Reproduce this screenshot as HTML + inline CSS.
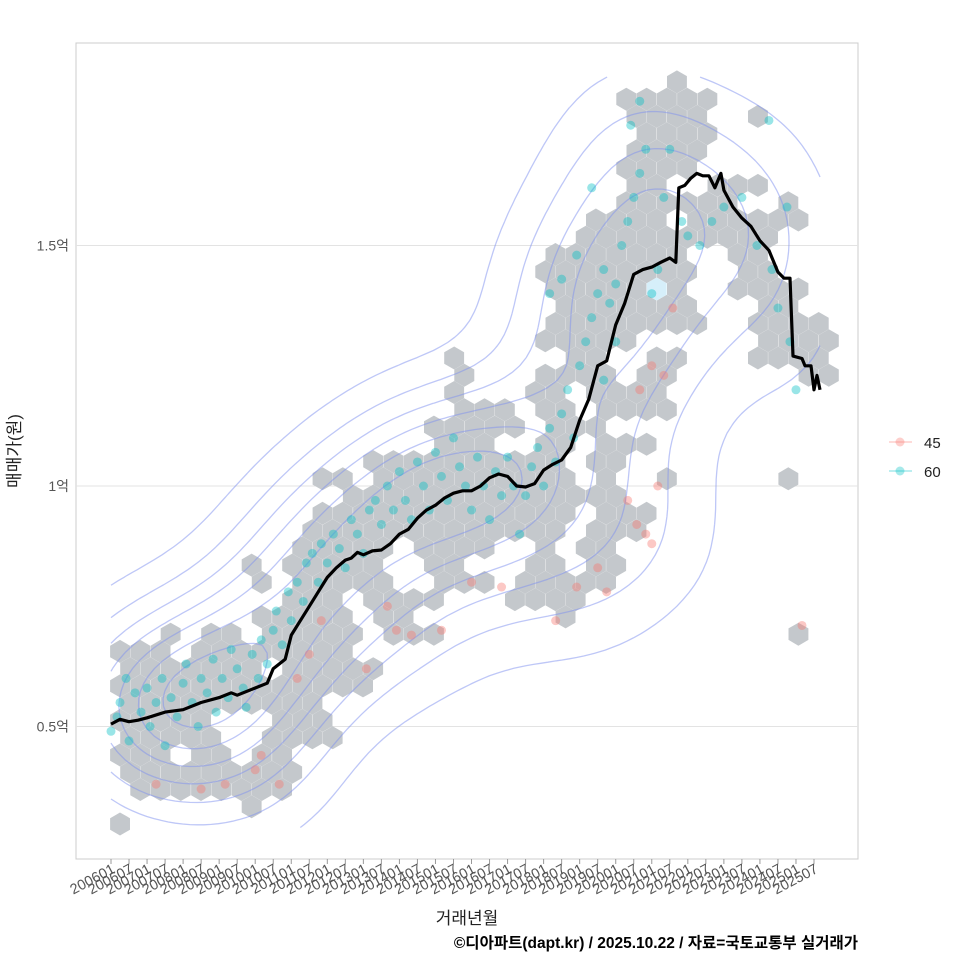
<!DOCTYPE html>
<html><head><meta charset="utf-8">
<style>
body{margin:0;background:#fff;}
svg{display:block;font-family:"Liberation Sans","Noto Sans CJK KR",sans-serif;}
</style></head>
<body>
<svg id="chart" width="960" height="960" viewBox="0 0 960 960">
<rect x="0" y="0" width="960" height="960" fill="#fff"/>
<rect x="76" y="43" width="782" height="816" fill="#fff" stroke="#cccccc" stroke-width="1"/>
<g id="grid"></g>
<g id="hexes"></g>
<g id="contours"></g>
<g id="points"></g>
<g id="trend"></g>
<g id="yaxis"></g>
<g id="xaxis"></g>
<text x="467" y="924" font-size="17" fill="#222" text-anchor="middle">거래년월</text>
<text x="0" y="0" font-size="17" fill="#222" text-anchor="middle" transform="translate(20,451) rotate(-90)">매매가(원)</text>
<text x="858" y="948" font-size="15.5" font-weight="bold" fill="#000" text-anchor="end">©디아파트(dapt.kr) / 2025.10.22 / 자료=국토교통부 실거래가</text>
<g>
  <g>
    <line x1="889" y1="442" x2="912" y2="442" stroke="#f8766d" stroke-opacity="0.35" stroke-width="1.5"/>
    <circle cx="900" cy="442" r="4.5" fill="#f8766d" fill-opacity="0.35"/>
    <text x="924" y="448" font-size="15" fill="#222">45</text>
  </g>
  <g>
    <line x1="889" y1="471" x2="912" y2="471" stroke="#00bfc4" stroke-opacity="0.35" stroke-width="1.5"/>
    <circle cx="900" cy="471" r="4.5" fill="#00bfc4" fill-opacity="0.35"/>
    <text x="924" y="477" font-size="15" fill="#222">60</text>
  </g>
</g>
</svg>
<script>
// ---- data ----
const yTickValues = [0.5, 1, 1.5];
const yTickLabels = ["0.5억", "1억", "1.5억"];
const xTickLabels = ["200601","200607","200701","200707","200801","200807","200901","200907","201001","201007","201101","201107","201201","201207","201301","201307","201401","201407","201501","201507","201601","201607","201701","201707","201801","201807","201901","201907","202001","202007","202101","202107","202201","202207","202301","202307","202401","202407","202501","202507"];
// median trend: months since 2006-01, value in 억
const lineMonth = [0,3,6,9,12,18,24,30,36,40,42,48,52,54,58,60,63,66,69,72,75,78,80,82,84,87,90,93,96,99,102,105,108,111,114,117,120,123,126,129,132,135,138,141,144,147,150,153,156,159,162,165,168,171,174,177,180,183,186,188,189,191,193,195,197,199,201,203,204,207,210,213,216,219,222,224,226,227,230,231,233,234,235,236];
const lineVal = [0.505,0.515,0.51,0.513,0.518,0.53,0.535,0.55,0.56,0.57,0.565,0.58,0.59,0.62,0.64,0.69,0.72,0.75,0.78,0.81,0.83,0.846,0.85,0.862,0.857,0.865,0.867,0.88,0.9,0.91,0.933,0.95,0.96,0.975,0.985,0.99,0.99,1.0,1.017,1.025,1.02,1.0,0.998,1.005,1.033,1.045,1.054,1.08,1.137,1.18,1.25,1.26,1.335,1.38,1.44,1.45,1.455,1.465,1.474,1.465,1.62,1.625,1.64,1.65,1.645,1.645,1.62,1.65,1.615,1.58,1.557,1.54,1.51,1.49,1.445,1.432,1.432,1.27,1.265,1.25,1.25,1.2,1.23,1.2];
// cyan (60) points: month, value
const cyanMonth = [0,2,3,5,6,8,10,12,13,15,17,18,20,22,24,25,27,29,30,32,34,35,37,39,40,42,44,45,47,49,50,52,54,55,57,59,60,62,64,65,67,69,70,72,74,76,78,80,82,84,86,88,90,92,94,96,98,100,102,104,106,108,110,112,114,116,118,120,122,124,126,128,130,132,134,136,138,140,142,144,146,148,150,152,154,156,158,160,162,164,166,168,170,172,174,176,178,173,176,180,182,184,186,190,192,196,200,204,210,215,220,222,226,228,219,225,146,150,155,160,164,168];
const cyanVal = [0.49,0.52,0.55,0.6,0.47,0.57,0.53,0.58,0.5,0.55,0.6,0.46,0.56,0.52,0.59,0.63,0.55,0.5,0.6,0.57,0.64,0.53,0.6,0.56,0.66,0.62,0.58,0.54,0.65,0.6,0.68,0.63,0.7,0.74,0.67,0.78,0.72,0.8,0.76,0.84,0.86,0.8,0.88,0.84,0.9,0.87,0.83,0.93,0.9,0.86,0.95,0.97,0.92,1.0,0.95,1.03,0.97,0.93,1.05,1.0,0.95,1.07,1.02,0.97,1.1,1.04,1.0,0.95,1.06,1.0,0.93,1.03,0.98,1.06,1.0,0.9,0.98,1.04,1.08,1.0,1.12,1.05,1.15,1.2,1.1,1.25,1.3,1.35,1.4,1.45,1.38,1.42,1.5,1.55,1.6,1.65,1.7,1.75,1.8,1.4,1.45,1.6,1.7,1.55,1.52,1.5,1.55,1.58,1.6,1.5,1.45,1.37,1.3,1.2,1.76,1.58,1.4,1.43,1.48,1.62,1.22,1.3];
// red (45) points
const redMonth = [15,30,38,48,50,56,62,66,70,85,92,95,100,110,120,130,148,155,162,165,172,175,178,180,182,180,187,184,230,176];
const redVal = [0.38,0.37,0.38,0.41,0.44,0.38,0.6,0.65,0.72,0.62,0.75,0.7,0.69,0.7,0.8,0.79,0.72,0.79,0.83,0.78,0.97,0.92,0.9,0.88,1.0,1.25,1.37,1.23,0.71,1.2];
// hexbin occupancy: row index -> column ranges [start,end]
const hexRows = [
 [[0,0]],[[6,6]],[[1,8]],[[0,8]],[[0,2],[4,5],[7,8]],[[0,4],[7,10]],[[0,4],[8,10]],[[0,9]],[[0,12]],[[0,6],[8,12]],
 [[0,2],[4,11]],[[2,2],[4,5],[7,11],[13,15],[33,33]],[[7,11],[13,14],[22,22]],[[8,10],[12,15],[19,22]],[[7,7],[9,13],[16,18],[20,24]],[[6,6],[8,12],[15,16],[20,21],[23,24]],[[9,13],[15,18],[21,21],[23,24]],[[9,21],[23,25]],[[10,22],[24,26]],[[11,24]],
 [[10,11],[13,22],[24,24],[27,27],[33,33]],[[12,21],[23,24]],[[16,18],[21,22],[24,26]],[[15,19],[21,23]],[[17,19],[21,22],[24,27]],[[16,16],[20,21],[23,26]],[[17,17],[21,24],[26,27],[34,35]],[[16,16],[22,23],[26,27],[31,34]],[[21,25],[32,35]],[[21,28],[31,34]],
 [[22,28],[32,33]],[[21,27],[30,33]],[[21,28],[31,32]],[[21,27],[30,31]],[[23,27],[28,30],[31,32]],[[23,26],[28,31],[32,33]],[[25,27],[28,30],[33,33]],[[25,26],[29,31]],[[25,28]],[[25,28]],
 [[26,29]],[[25,28],[31,31]],[[25,29]],[[27,27]]
];
const hexBinMonth = 6.741, hexBinVal = 0.03588, hexOriginMonth = 3.0, hexOriginVal = 0.2973;
const denseHex = [31, 26];
// density estimation range (data limits)
const kdeMonthRange = [0, 236], kdeValRange = [0.29, 1.85];

// ---- scales ----
const NS = "http://www.w3.org/2000/svg";
function xs(m){ return 111 + m * (703/234); }
function ys(v){ return 486 - (v - 1) * 481; }
function mk(tag, attrs, parent){ const e=document.createElementNS(NS,tag); for(const k in attrs) e.setAttribute(k, attrs[k]); parent.appendChild(e); return e; }

// grid + y axis
const grid=document.getElementById('grid'), yax=document.getElementById('yaxis');
yTickValues.forEach((v,i)=>{
  const gl=mk('line',{x1:76,x2:858,y1:ys(v),y2:ys(v),stroke:'#e3e3e3','stroke-width':1},grid);
  
  
  const t=mk('text',{x:69,y:ys(v)+5,'font-size':14,fill:'#555','text-anchor':'end'},yax);
  t.textContent=yTickLabels[i];
  
  
});
// x axis
const xax=document.getElementById('xaxis');
xTickLabels.forEach((lab,i)=>{
  const m=i*6, x=xs(m);
  const tk=mk('line',{x1:x,x2:x,y1:859,y2:864,stroke:'#999','stroke-width':1},xax);
  
  
  const t=mk('text',{x:0,y:0,'font-size':14.5,fill:'#555','text-anchor':'end',transform:`translate(${x+5},${872}) rotate(-28)`},xax);
  t.textContent=lab;
  
  
});

// hexes
const hexG=document.getElementById('hexes');
const R=11.5;
function hexPath(cx,cy){ let d=''; for(let k=0;k<6;k++){ const a=Math.PI/180*(-90+60*k); d+=(k?'L':'M')+(cx+R*Math.cos(a)).toFixed(1)+','+(cy+R*Math.sin(a)).toFixed(1);} return d+'Z'; }
hexRows.forEach((ranges,r)=>{
  ranges.forEach(([a,b])=>{
    for(let c=a;c<=b;c++){
      const m=hexOriginMonth + (c + (r%2?0.5:0))*hexBinMonth;
      const v=hexOriginVal + r*hexBinVal;
      const dense=(r===denseHex[0]&&c===denseHex[1]);
      const h=mk('path',{d:hexPath(xs(m),ys(v)),fill:dense?'#d6effa':'#c4c8cc'},hexG);
      
      
    }
  });
});

// density contours via KDE on points + marching squares (limited to data range)
(function(){
  const pts=[];
  cyanMonth.forEach((m,i)=>pts.push([xs(m),ys(cyanVal[i])]));
  redMonth.forEach((m,i)=>pts.push([xs(m),ys(redVal[i])]));
  const x0=xs(kdeMonthRange[0]),x1=xs(kdeMonthRange[1]),y0=ys(kdeValRange[1]),y1=ys(kdeValRange[0]);
  const nx=100, ny=100, stx=(x1-x0)/(nx-1), sty=(y1-y0)/(ny-1);
  const sx=62, sy=62;
  const D=[]; let mx=0;
  for(let j=0;j<ny;j++){ D.push([]); for(let i=0;i<nx;i++){ const X=x0+i*stx,Y=y0+j*sty; let s=0;
    for(const p of pts){ const dx=(X-p[0])/sx, dy=(Y-p[1])/sy; const q=dx*dx+dy*dy; if(q<12) s+=Math.exp(-q/2); }
    D[j].push(s); if(s>mx) mx=s; } }
  const levels=[0.12,0.25,0.38,0.51,0.64,0.77,0.9].map(f=>f*mx);
  const g=document.getElementById('contours');
  levels.forEach(L=>{
    let d='';
    for(let j=0;j<ny-1;j++) for(let i=0;i<nx-1;i++){
      const a=D[j][i],b=D[j][i+1],c=D[j+1][i+1],e=D[j+1][i];
      const X=x0+i*stx,Y=y0+j*sty;
      const ip=(p,q)=> (L-p)/(q-p);
      const pts2=[];
      if((a<L)!==(b<L)) pts2.push([X+stx*ip(a,b),Y]);
      if((b<L)!==(c<L)) pts2.push([X+stx,Y+sty*ip(b,c)]);
      if((e<L)!==(c<L)) pts2.push([X+stx*ip(e,c),Y+sty]);
      if((a<L)!==(e<L)) pts2.push([X,Y+sty*ip(a,e)]);
      for(let k=0;k+1<pts2.length;k+=2) d+=`M${pts2[k][0].toFixed(1)},${pts2[k][1].toFixed(1)}L${pts2[k+1][0].toFixed(1)},${pts2[k+1][1].toFixed(1)}`;
    }
    const p=mk('path',{d:d,fill:'none',stroke:'#7d8ff0','stroke-opacity':0.5,'stroke-width':1.3},g);
    
    
  });
})();

// points
const pg=document.getElementById('points');
cyanMonth.forEach((m,i)=>{
  const c=mk('circle',{cx:xs(m),cy:ys(cyanVal[i]),r:4.5,fill:'#00bfc4','fill-opacity':0.4},pg);
  
  
});
redMonth.forEach((m,i)=>{
  const c=mk('circle',{cx:xs(m),cy:ys(redVal[i]),r:4.5,fill:'#f8766d','fill-opacity':0.4},pg);
  
  
});

// trend line
const tg=document.getElementById('trend');
const d=lineMonth.map((m,i)=>(i?'L':'M')+xs(m).toFixed(1)+','+ys(lineVal[i]).toFixed(1)).join('');
const tl=mk('path',{d:d,fill:'none',stroke:'#000','stroke-width':3.2,'stroke-linejoin':'round'},tg);


</script>
</body></html>
